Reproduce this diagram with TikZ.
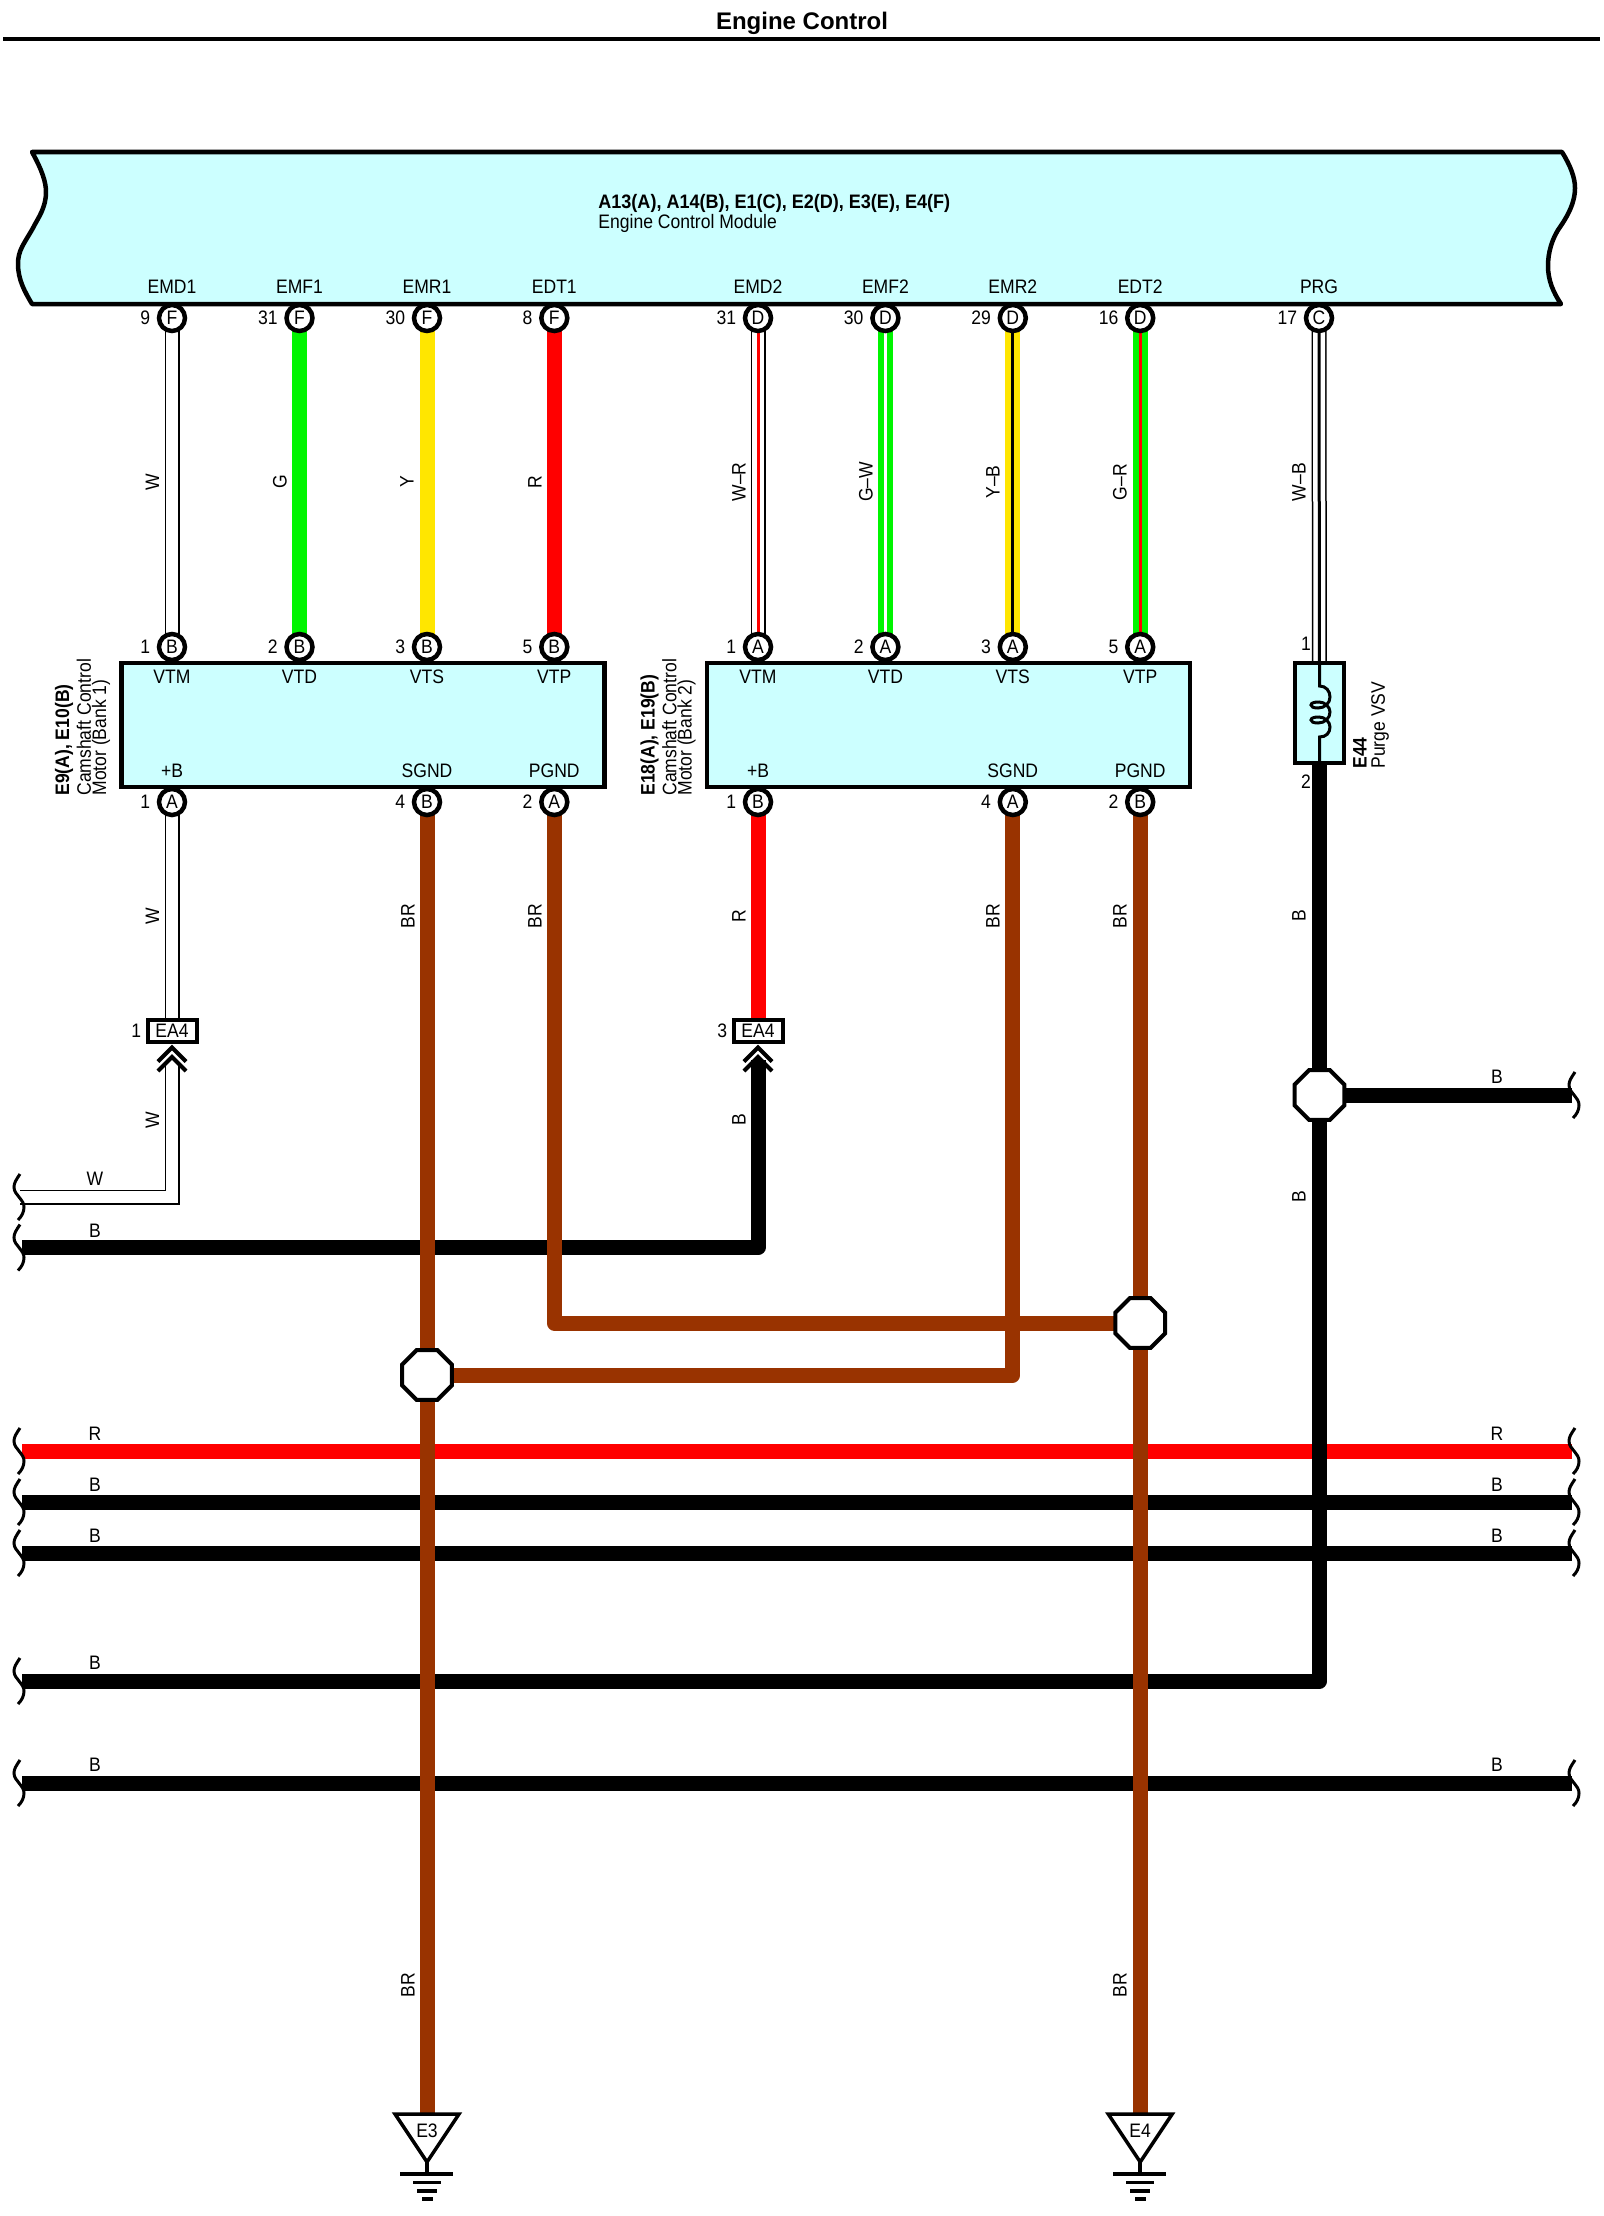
\documentclass[tikz,border=0pt]{standalone}
\usepackage{fontspec}
\setmainfont{Liberation Sans}[FakeStretch=0.9]
\newfontfamily\titlefont{Liberation Sans}
\newfontfamily\codefont{Liberation Sans}[FakeStretch=0.925]
\usetikzlibrary{backgrounds,shapes.geometric}
\definecolor{ecmcyan}{HTML}{CCFFFF}
\definecolor{wirebrown}{HTML}{993300}
\definecolor{wiregreen}{HTML}{00F500}
\definecolor{wireyellow}{HTML}{FFE600}
\tikzset{
  every node/.style={font=\fontsize{9.75}{10}\selectfont},
  wirethick/.style={line width=7.5pt,line join=round},
  wirewhite/.style={draw=black,line width=0.75pt,double=white,double distance=6pt,line join=miter},
  wirestripe/.style={line width=1.5pt},
  pinnode/.style={circle,draw,line width=2.25pt,fill=white,minimum size=13pt,inner sep=0pt,outer sep=0pt},
  pinnum/.style={inner sep=0pt,xshift=-4.25pt},
  devicebox/.style={rectangle,draw,line width=2.25pt,fill=ecmcyan,inner sep=0pt,outer sep=0pt},
  joint/.style={regular polygon,regular polygon sides=8,draw,line width=2pt,fill=white,minimum size=27pt,inner sep=0pt,outer sep=0pt},
  connbox/.style={rectangle,draw,line width=2pt,fill=white,minimum width=24.5pt,minimum height=11pt,inner sep=0pt,outer sep=0pt},
  wirelabel/.style={rotate=90,inner sep=0pt},
  buslabel/.style={inner sep=0pt},
  sidelabel/.style={rotate=90,anchor=west,inner sep=0pt},
  chevron/.style={line width=2pt},
  gndline/.style={line width=1.75pt},
  pics/wirebreak/.style={code={
    \draw[line width=1.5pt] (1,-23) .. controls (-3,-17) and (-5,-14) .. (-5,-10) .. controls (-5,-5) and (-2,-3) .. (0,0)
      .. controls (3,4) and (5,6) .. (5,10) .. controls (5,15) and (3,19) .. (-1,23);
  }}
}
\begin{document}
\begin{tikzpicture}[x=0.5pt,y=-0.5pt]
    \useasboundingbox (0,0) rectangle (1603,2216);

    % title and the rule under it
    \node[font=\titlefont\bfseries\fontsize{12}{12}\selectfont] (title) at (802,23.5) {Engine Control};
    \draw[line width=2.25pt] (3,39) -- (1600,39);

    % engine control module
    \draw[line width=2.25pt,fill=ecmcyan,line join=round] (32,152) -- (1562,152)
        .. controls (1570,165) and (1575,177) .. (1575,188) .. controls (1575,205) and (1565,220) .. (1558,230)
        .. controls (1552,240) and (1548,252) .. (1548,266) .. controls (1548,280) and (1553,292) .. (1561,304)
        -- (32,304)
        .. controls (25,292) and (18,280) .. (18,264) .. controls (18,250) and (24,244) .. (33,228)
        .. controls (38,218) and (46,208) .. (46,192) .. controls (46,182) and (42,170) .. (32,152) -- cycle;
    \node[anchor=west,inner sep=0pt,font=\codefont\bfseries\fontsize{9.75}{10}\selectfont] (ecmcode) at (598,203) {A13(A), A14(B), E1(C), E2(D), E3(E), E4(F)};
    \node[anchor=west,inner sep=0pt] (ecmname) at (598,223) {Engine Control Module};
    \node (nameEMD1) at (172,287) {EMD1};
    \node (nameEMF1) at (299.5,287) {EMF1};
    \node (nameEMR1) at (427,287) {EMR1};
    \node (nameEDT1) at (554.3,287) {EDT1};
    \node (nameEMD2) at (758,287) {EMD2};
    \node (nameEMF2) at (885.4,287) {EMF2};
    \node (nameEMR2) at (1012.8,287) {EMR2};
    \node (nameEDT2) at (1140.2,287) {EDT2};
    \node (namePRG) at (1319,287) {PRG};

    % camshaft control motors
    \node[devicebox,minimum width=241.5pt,minimum height=62pt] (motorA) at (363,725) {};
    \node[devicebox,minimum width=241.5pt,minimum height=62pt] (motorB) at (948.5,725) {};
    \node (vtmA) at (172,677) {VTM};
    \node (vtdA) at (299.5,677) {VTD};
    \node (vtsA) at (427,677) {VTS};
    \node (vtpA) at (554.3,677) {VTP};
    \node (plusA) at (172,771) {+B};
    \node (sgndA) at (427,771) {SGND};
    \node (pgndA) at (554.3,771) {PGND};
    \node (vtmB) at (758,677) {VTM};
    \node (vtdB) at (885.4,677) {VTD};
    \node (vtsB) at (1012.8,677) {VTS};
    \node (vtpB) at (1140.2,677) {VTP};
    \node (plusB) at (758,771) {+B};
    \node (sgndB) at (1012.8,771) {SGND};
    \node (pgndB) at (1140.2,771) {PGND};
    \node[sidelabel,font=\bfseries\fontsize{9.75}{10}\selectfont] (codeA) at (64,796) {E9(A), E10(B)};
    \node[sidelabel] (titleA) at (84,796) {Camshaft Control};
    \node[sidelabel] (subA) at (101,796) {Motor (Bank 1)};
    \node[sidelabel,font=\bfseries\fontsize{9.75}{10}\selectfont] (codeB) at (649.5,796) {E18(A), E19(B)};
    \node[sidelabel] (titleB) at (669.5,796) {Camshaft Control};
    \node[sidelabel] (subB) at (686.5,796) {Motor (Bank 2)};

    % purge vsv with its coil
    \node[devicebox,minimum width=24.6pt,minimum height=50pt] (vsv) at (1319.5,713) {};
    \draw[line width=1.5pt] (vsv.north) -- (1319.5,686) .. controls (1326,686) and (1330,691) .. (1330,697)
        .. controls (1330,703) and (1325,708) .. (1318,708) .. controls (1313,708) and (1311,706.5) .. (1311,705)
        .. controls (1311,703) and (1314,702) .. (1319,702) .. controls (1325,702) and (1330,707) .. (1330,712)
        .. controls (1330,718) and (1325,723) .. (1318,723) .. controls (1313,723) and (1311,721.5) .. (1311,720)
        .. controls (1311,718) and (1314,717) .. (1319,717) .. controls (1325,717) and (1330,722) .. (1330,727)
        .. controls (1330,733) and (1326,737) .. (1319.5,737) -- (vsv.south);
    \node[sidelabel,font=\bfseries\fontsize{9.75}{10}\selectfont] (codeV) at (1360,769) {E44};
    \node[sidelabel] (titleV) at (1380,769) {Purge VSV};
    \node[buslabel] (numVa) at (1306,644) {1};
    \node[buslabel] (numVb) at (1306,782) {2};

    % pins on the control module
    \node[pinnode,label={[pinnum]left:9}] (pinEMD1) at (172,318) {F};
    \node[pinnode,label={[pinnum]left:31}] (pinEMF1) at (299.5,318) {F};
    \node[pinnode,label={[pinnum]left:30}] (pinEMR1) at (427,318) {F};
    \node[pinnode,label={[pinnum]left:8}] (pinEDT1) at (554.3,318) {F};
    \node[pinnode,label={[pinnum]left:31}] (pinEMD2) at (758,318) {D};
    \node[pinnode,label={[pinnum]left:30}] (pinEMF2) at (885.4,318) {D};
    \node[pinnode,label={[pinnum]left:29}] (pinEMR2) at (1012.8,318) {D};
    \node[pinnode,label={[pinnum]left:16}] (pinEDT2) at (1140.2,318) {D};
    \node[pinnode,label={[pinnum]left:17}] (pinPRG) at (1319,318) {C};

    % pins on top of the motors
    \node[pinnode,label={[pinnum]left:1}] (pinVTMa) at (172,647) {B};
    \node[pinnode,label={[pinnum]left:2}] (pinVTDa) at (299.5,647) {B};
    \node[pinnode,label={[pinnum]left:3}] (pinVTSa) at (427,647) {B};
    \node[pinnode,label={[pinnum]left:5}] (pinVTPa) at (554.3,647) {B};
    \node[pinnode,label={[pinnum]left:1}] (pinVTMb) at (758,647) {A};
    \node[pinnode,label={[pinnum]left:2}] (pinVTDb) at (885.4,647) {A};
    \node[pinnode,label={[pinnum]left:3}] (pinVTSb) at (1012.8,647) {A};
    \node[pinnode,label={[pinnum]left:5}] (pinVTPb) at (1140.2,647) {A};

    % pins under the motors
    \node[pinnode,label={[pinnum]left:1}] (pinPLUSa) at (172,802) {A};
    \node[pinnode,label={[pinnum]left:4}] (pinSGNDa) at (427,802) {B};
    \node[pinnode,label={[pinnum]left:2}] (pinPGNDa) at (554.3,802) {A};
    \node[pinnode,label={[pinnum]left:1}] (pinPLUSb) at (758,802) {B};
    \node[pinnode,label={[pinnum]left:4}] (pinSGNDb) at (1012.8,802) {A};
    \node[pinnode,label={[pinnum]left:2}] (pinPGNDb) at (1140.2,802) {B};

    % EA4 connectors and the chevrons under them
    \node[connbox,label={[inner sep=0pt,xshift=-3pt]left:1}] (eaA) at (172,1031) {EA4};
    \node[connbox,label={[inner sep=0pt,xshift=-3pt]left:3}] (eaB) at (758,1031) {EA4};
    \draw[chevron] (158,1061.5) -- (172,1047.5) -- (186,1061.5);
    \draw[chevron] (158,1071) -- (172,1057) -- (186,1071);
    \draw[chevron] (744,1061.5) -- (758,1047.5) -- (772,1061.5);
    \draw[chevron] (744,1071) -- (758,1057) -- (772,1071);
    \coordinate (tipA) at (172,1063);
    \coordinate (tipB) at (758,1060);

    % splice points
    \node[joint] (spliceV) at (1319.5,1095) {};
    \node[joint] (spliceB) at (1140.2,1323) {};
    \node[joint] (spliceA) at (427,1375) {};

    % free ends of the wires
    \coordinate (endW) at (20,1197);
    \coordinate (endB) at (22,1247.5);
    \coordinate (endV) at (1572,1095);
    \coordinate (endRl) at (22,1451);
    \coordinate (endRr) at (1572,1451);
    \coordinate (endBal) at (22,1502);
    \coordinate (endBar) at (1572,1502);
    \coordinate (endBbl) at (22,1553);
    \coordinate (endBbr) at (1572,1553);
    \coordinate (endBc) at (22,1681);
    \coordinate (endBdl) at (22,1783);
    \coordinate (endBdr) at (1572,1783);
    \coordinate (gndA) at (427,2114);
    \coordinate (gndB) at (1140.2,2114);

    % wires, under all the nodes
    \begin{scope}[on background layer]
        % long buses first
        \draw[wirethick,red] (endRl) -- (endRr);
        \draw[wirethick] (endBal) -- (endBar);
        \draw[wirethick] (endBbl) -- (endBbr);
        \draw[wirethick] (endBdl) -- (endBdr);
        \draw[wirethick] (endB) -| (tipB);

        % module to motors
        \draw[wirewhite] (pinEMD1) -- (pinVTMa);
        \draw[wirethick,wiregreen] (pinEMF1) -- (pinVTDa);
        \draw[wirethick,wireyellow] (pinEMR1) -- (pinVTSa);
        \draw[wirethick,red] (pinEDT1) -- (pinVTPa);
        \draw[wirewhite] (pinEMD2) -- (pinVTMb);
        \draw[wirestripe,red] (pinEMD2) -- (pinVTMb);
        \draw[wirethick,wiregreen] (pinEMF2) -- (pinVTDb);
        \draw[wirestripe,white] (pinEMF2) -- (pinVTDb);
        \draw[wirethick,wireyellow] (pinEMR2) -- (pinVTSb);
        \draw[wirestripe,black] (pinEMR2) -- (pinVTSb);
        \draw[wirethick,wiregreen] (pinEDT2) -- (pinVTPb);
        \draw[wirestripe,red] (pinEDT2) -- (pinVTPb);
        \draw[wirewhite] (pinPRG) -- (vsv);
        \draw[wirestripe,black] (pinPRG) -- (vsv);

        % motors to EA4 and on to the left
        \draw[wirewhite] (pinPLUSa) -- (eaA);
        \draw[wirewhite] (tipA) |- (endW);
        \draw[wirethick,red] (pinPLUSb) -- (eaB);

        % purge vsv ground
        \draw[wirethick] (vsv) -- (spliceV);
        \draw[wirethick] (spliceV) -- (endV);
        \draw[wirethick] (spliceV) |- (endBc);

        % brown grounds over everything
        \draw[wirethick,wirebrown] (pinSGNDa) -- (spliceA);
        \draw[wirethick,wirebrown] (spliceA) -- (gndA);
        \draw[wirethick,wirebrown] (pinPGNDa) |- (spliceB);
        \draw[wirethick,wirebrown] (pinSGNDb) |- (spliceA);
        \draw[wirethick,wirebrown] (pinPGNDb) -- (spliceB);
        \draw[wirethick,wirebrown] (spliceB) -- (gndB);
    \end{scope}

    % broken wire ends
    \pic at (19,1197) {wirebreak};
    \pic at (19,1247.5) {wirebreak};
    \pic at (19,1451) {wirebreak};
    \pic at (19,1502) {wirebreak};
    \pic at (19,1553) {wirebreak};
    \pic at (19,1681) {wirebreak};
    \pic at (19,1783) {wirebreak};
    \pic at (1574,1095) {wirebreak};
    \pic at (1574,1451) {wirebreak};
    \pic at (1574,1502) {wirebreak};
    \pic at (1574,1553) {wirebreak};
    \pic at (1574,1783) {wirebreak};

    % ground symbols
    \draw[gndline,line join=miter] (395,2114) -- (459,2114) -- (427,2162) -- cycle;
    \draw[gndline] (427,2162) -- (427,2174);
    \draw[gndline] (400,2174) -- (453,2174);
    \draw[gndline] (413,2182.5) -- (441,2182.5);
    \draw[gndline] (417,2191) -- (437,2191);
    \draw[gndline] (422,2199) -- (433,2199);
    \node[inner sep=0pt] (labelE3) at (427,2131) {E3};
    \draw[gndline,line join=miter] (1108.2,2114) -- (1172.2,2114) -- (1140.2,2162) -- cycle;
    \draw[gndline] (1140.2,2162) -- (1140.2,2174);
    \draw[gndline] (1113.2,2174) -- (1166.2,2174);
    \draw[gndline] (1126.2,2182.5) -- (1154.2,2182.5);
    \draw[gndline] (1130.2,2191) -- (1150.2,2191);
    \draw[gndline] (1135.2,2199) -- (1146.2,2199);
    \node[inner sep=0pt] (labelE4) at (1140.2,2131) {E4};

    % colour codes beside the vertical wires
    \node[wirelabel] (colA) at (152.5,482) {W};
    \node[wirelabel] (colB) at (280,482) {G};
    \node[wirelabel] (colC) at (407,482) {Y};
    \node[wirelabel] (colD) at (535,482) {R};
    \node[wirelabel] (colE) at (739,482) {W--R};
    \node[wirelabel] (colF) at (866,482) {G--W};
    \node[wirelabel] (colG) at (993,482) {Y--B};
    \node[wirelabel] (colH) at (1120,482) {G--R};
    \node[wirelabel] (colI) at (1299,482) {W--B};
    \node[wirelabel] (colJ) at (152.5,916) {W};
    \node[wirelabel] (colK) at (408,916) {BR};
    \node[wirelabel] (colL) at (535,916) {BR};
    \node[wirelabel] (colM) at (739,916) {R};
    \node[wirelabel] (colN) at (993,916) {BR};
    \node[wirelabel] (colO) at (1120,916) {BR};
    \node[wirelabel] (colP) at (1299,916) {B};
    \node[wirelabel] (colQ) at (152.5,1120) {W};
    \node[wirelabel] (colR) at (739,1120) {B};
    \node[wirelabel] (colS) at (1299,1197) {B};
    \node[wirelabel] (colT) at (408,1985) {BR};
    \node[wirelabel] (colU) at (1120,1985) {BR};

    % colour codes above the buses
    \node[buslabel] (busA) at (95,1179) {W};
    \node[buslabel] (busB) at (95,1231) {B};
    \node[buslabel] (busC) at (95,1434) {R};
    \node[buslabel] (busD) at (95,1485) {B};
    \node[buslabel] (busE) at (95,1536) {B};
    \node[buslabel] (busF) at (95,1663) {B};
    \node[buslabel] (busG) at (95,1765) {B};
    \node[buslabel] (busH) at (1497,1077) {B};
    \node[buslabel] (busI) at (1497,1434) {R};
    \node[buslabel] (busJ) at (1497,1485) {B};
    \node[buslabel] (busK) at (1497,1536) {B};
    \node[buslabel] (busL) at (1497,1765) {B};
\end{tikzpicture}
\end{document}
